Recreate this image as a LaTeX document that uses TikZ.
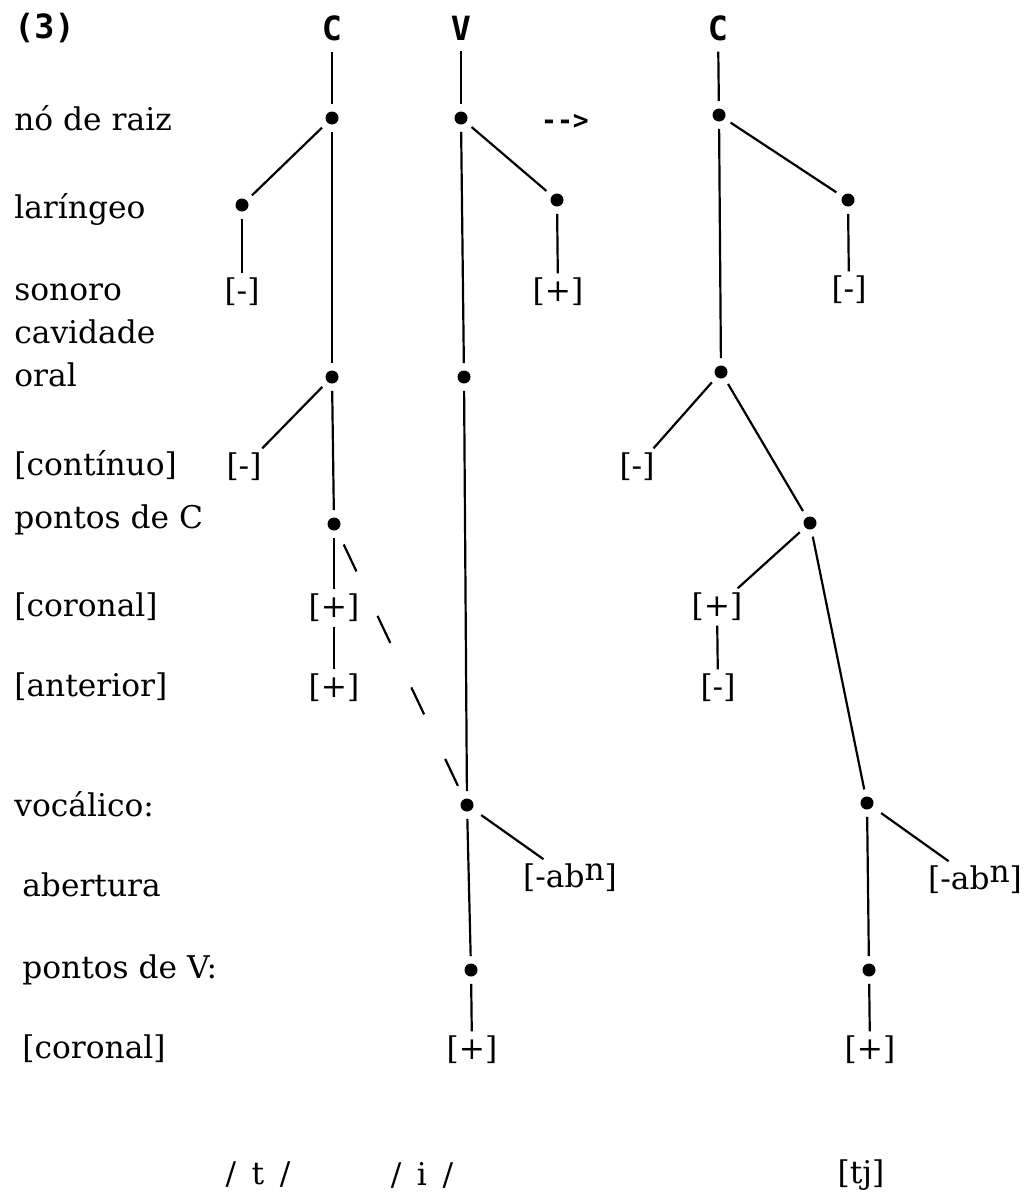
\documentclass[tikz,border=0pt]{standalone}
\usepackage{fontspec}
\setmainfont{DejaVu Serif}
\newfontfamily\hdfont{DejaVu Sans Mono}
\begin{document}
\begin{tikzpicture}[x=0.02cm,y=-0.02cm,
  dot/.style={circle,fill,inner sep=0pt,minimum size=7.4pt},
  lab/.style={anchor=base west,inner sep=0pt,font=\fontsize{17.8}{20}\selectfont},
  feat/.style={inner sep=2.5pt,font=\fontsize{17.8}{20}\selectfont},
  hd/.style={inner sep=2pt,font=\hdfont\bfseries\fontsize{19}{22}\selectfont},
  edge/.style={line width=1.25pt},
  dd/.style={edge,shorten <=4pt,shorten >=4pt},
  dsh/.style={edge,dash pattern=on 17pt off 28pt,shorten <=9pt,shorten >=4pt}]
\useasboundingbox (0,0) rectangle (1035,1200);

% left labels
\node[hd,anchor=west,inner sep=0pt] (n3) at (14,28) {(3)};
\node[lab] (l1) at (14,130) {nó de raiz};
\node[lab] (l2) at (14,218) {laríngeo};
\node[lab] (l3) at (14,300) {sonoro};
\node[lab] (l4) at (14,343) {cavidade};
\node[lab] (l5) at (14,386) {oral};
\node[lab] (l6) at (14,475) {[contínuo]};
\node[lab] (l7) at (14,528) {pontos de C};
\node[lab] (l8) at (14,616) {[coronal]};
\node[lab] (l9) at (14,696) {[anterior]};
\node[lab] (l10) at (14,816) {vocálico:};
\node[lab] (l11) at (22,896) {abertura};
\node[lab] (l12) at (22,978) {pontos de V:};
\node[lab] (l13) at (22,1058) {[coronal]};

% headers
\node[hd] (c1) at (332,28) {C};
\node[hd] (v) at (461,28) {V};
\node[hd] (c2) at (718,28) {C};
\node[hd,font=\hdfont\bfseries\fontsize{15}{18}\selectfont] (arr) at (565,122) {-{}-{}>};

% first C
\node[dot] (c1r) at (332,118) {};
\node[dot] (c1l) at (242,205) {};
\node[dot] (c1o) at (332,377) {};
\node[dot] (c1p) at (334,524) {};
\node[feat] (c1lf) at (242,292) {[-]};
\node[feat] (c1cf) at (244,467) {[-]};
\node[feat] (c1cor) at (334,608) {[+]};
\node[feat] (c1ant) at (334,688) {[+]};

% V
\node[dot] (vr) at (461,118) {};
\node[dot] (vl) at (557,200) {};
\node[dot] (vo) at (464,377) {};
\node[dot] (vv) at (467,805) {};
\node[dot] (vp) at (471,970) {};
\node[feat] (vlf) at (558,292) {[+]};
\node[feat] (vab) at (570,878) {[-ab\raisebox{0.45ex}{n}]};
\node[feat] (vcor) at (472,1050) {[+]};

% second C
\node[dot] (c2r) at (719,115) {};
\node[dot] (c2l) at (848,200) {};
\node[dot] (c2o) at (721,372) {};
\node[dot] (c2p) at (810,523) {};
\node[dot] (c2v) at (867,803) {};
\node[dot] (c2vp) at (869,970) {};
\node[feat] (c2lf) at (849,290) {[-]};
\node[feat] (c2cf) at (637,467) {[-]};
\node[feat] (c2cor) at (717,607) {[+]};
\node[feat] (c2ant) at (718,688) {[-]};
\node[feat] (c2ab) at (975,880) {[-ab\raisebox{0.45ex}{n}]};
\node[feat] (c2vcor) at (870,1050) {[+]};

% bottom
\node[feat] (bt) at (258,1175) {/\hspace{0.5em}t\hspace{0.5em}/};
\node[feat] (bi) at (422,1175) {/\hspace{0.5em}i\hspace{0.5em}/};
\node[feat] (btj) at (861,1175) {[tj]};

% edges first C
\draw[dd] (c1) -- (c1r);
\draw[dd] (c1r) -- (c1l);
\draw[edge,shorten <=4pt] (c1l) -- (c1lf);
\draw[dd] (c1r) -- (c1o);
\draw[edge,shorten <=4pt] (c1o) -- (c1cf);
\draw[dd] (c1o) -- (c1p);
\draw[edge,shorten <=4pt] (c1p) -- (c1cor);
\draw[edge] (c1cor) -- (c1ant);
\draw[dsh] (c1p) -- (vv);

% edges V
\draw[dd] (v) -- (vr);
\draw[dd] (vr) -- (vl);
\draw[edge,shorten <=4pt] (vl) -- (vlf);
\draw[dd] (vr) -- (vo);
\draw[dd] (vo) -- (vv);
\draw[edge,shorten <=6pt] (vv) -- (vab);
\draw[dd] (vv) -- (vp);
\draw[edge,shorten <=4pt] (vp) -- (vcor);

% edges second C
\draw[dd] (c2) -- (c2r);
\draw[dd] (c2r) -- (c2l);
\draw[edge,shorten <=4pt] (c2l) -- (c2lf);
\draw[dd] (c2r) -- (c2o);
\draw[edge,shorten <=4pt] (c2o) -- (c2cf);
\draw[dd] (c2o) -- (c2p);
\draw[edge,shorten <=4pt] (c2p) -- (c2cor);
\draw[edge] (c2cor) -- (c2ant);
\draw[dd] (c2p) -- (c2v);
\draw[edge,shorten <=6pt] (c2v) -- (c2ab);
\draw[dd] (c2v) -- (c2vp);
\draw[edge,shorten <=4pt] (c2vp) -- (c2vcor);
\end{tikzpicture}
\end{document}
